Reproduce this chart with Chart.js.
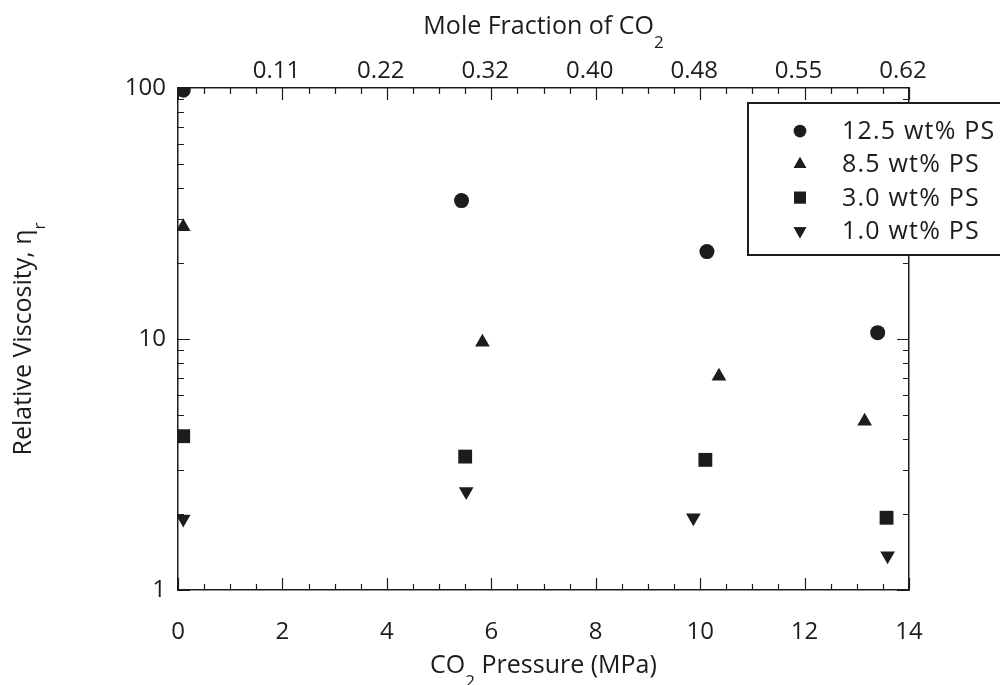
<!DOCTYPE html>
<html>
<head>
<meta charset="utf-8">
<script src="https://cdn.jsdelivr.net/npm/chart.js@4.4.1/dist/chart.umd.min.js"></script>
<style>
  html,body{margin:0;padding:0;background:#fff;}
  #wrap{width:1000px;height:685px;position:relative;}
</style>
</head>
<body>
<div id="wrap"><canvas id="c" width="1000" height="685"></canvas></div>
<script>
// data
const seriesLabels = ['12.5 wt% PS','8.5 wt% PS','3.0 wt% PS','1.0 wt% PS'];
const ps125X = [0.1, 5.43, 10.13, 13.4];
const ps125Y = [98, 35.6, 22.3, 10.6];
const ps85X  = [0.1, 5.83, 10.36, 13.15];
const ps85Y  = [28.0, 9.7, 7.1, 4.7];
const ps30X  = [0.1, 5.5, 10.1, 13.57];
const ps30Y  = [4.1, 3.4, 3.3, 1.94];
const ps10X  = [0.1, 5.52, 9.87, 13.59];
const ps10Y  = [1.92, 2.47, 1.94, 1.37];

const pressureTicks = [0,2,4,6,8,10,12,14];
const moleFracLabels = ['', '0.11','0.22','0.32','0.40','0.48','0.55','0.62'];
const viscTicks = [1,10,100];

const INK = '#1c1c1c';
const FONT = '"Open Sans", "DejaVu Sans", sans-serif';

const pts = (xs, ys) => xs.map((x,i)=>({x, y: ys[i]}));
const marker = [
  {style:'circle', radius:7.5, rotation:0},
  {style:'triangle', radius:8.5, rotation:0},
  {style:'rect', radius:9.8, rotation:0},
  {style:'triangle', radius:8.5, rotation:180},
];
const allData = [pts(ps125X,ps125Y), pts(ps85X,ps85Y), pts(ps30X,ps30Y), pts(ps10X,ps10Y)];

const datasets = allData.map((d,i)=>({
  label: seriesLabels[i], data: d,
  pointStyle: marker[i].style, pointRadius: marker[i].radius, pointRotation: marker[i].rotation,
  backgroundColor: INK, borderColor: INK, borderWidth: 0, showLine:false
}));

// inside tick marks, axis titles with subscripts, legend box
const decor = {
  id:'decor',
  afterDatasetsDraw(chart){
    const {ctx, chartArea:a, scales} = chart;
    const xs = scales.x, ys = scales.y;
    ctx.save();
    ctx.strokeStyle = INK; ctx.lineWidth = 1.2;
    ctx.beginPath();
    for(let v=0; v<=14.001; v+=0.5){
      const px = Math.round(xs.getPixelForValue(v))+0.5;
      const len = (v%2===0) ? 12 : 6;
      ctx.moveTo(px, a.bottom); ctx.lineTo(px, a.bottom-len);
      ctx.moveTo(px, a.top); ctx.lineTo(px, a.top+len);
    }
    for(let dec=1; dec<100; dec*=10){
      for(let m=1; m<10; m++){
        const v = m*dec;
        const py = Math.round(ys.getPixelForValue(v))+0.5;
        const len = (m===1) ? 12 : 6;
        ctx.moveTo(a.left, py); ctx.lineTo(a.left+len, py);
        ctx.moveTo(a.right, py); ctx.lineTo(a.right-len, py);
      }
    }
    ctx.stroke();

    // axis titles
    ctx.fillStyle = INK;
    ctx.textBaseline = 'alphabetic';
    const sub = (parts, cx, cy, rot) => {
      ctx.save();
      ctx.translate(cx, cy); if(rot) ctx.rotate(rot);
      let w = 0;
      parts.forEach(p=>{ ctx.font = (p.sub?'17px ':'25px ')+FONT; w += ctx.measureText(p.t).width; });
      let x = -w/2;
      ctx.textAlign = 'left';
      parts.forEach(p=>{
        ctx.font = (p.sub?'17px ':'25px ')+FONT;
        ctx.fillText(p.t, x, p.sub ? 14 : 0);
        x += ctx.measureText(p.t).width;
      });
      ctx.restore();
    };
    const cx = (a.left+a.right)/2;
    sub([{t:'CO'},{t:'2',sub:true},{t:' Pressure (MPa)'}], cx, 673);
    sub([{t:'Mole Fraction of CO'},{t:'2',sub:true}], cx, 34);
    sub([{t:'Relative Viscosity, η'},{t:'r',sub:true}], 31, (a.top+a.bottom)/2, -Math.PI/2);

    // legend
    const L = 748, T = 103, B = 255;
    ctx.fillStyle = '#fff';
    ctx.fillRect(L, T, 1010-L, B-T);
    ctx.strokeStyle = INK; ctx.lineWidth = 2;
    ctx.strokeRect(L, T, 1010-L, B-T);
    ctx.font = '25px '+FONT;
    ctx.letterSpacing = '1.2px';
    ctx.textAlign = 'left'; ctx.textBaseline = 'middle';
    chart.data.datasets.forEach((ds,i)=>{
      const y = 131 + i*33.3;
      Chart.helpers.drawPoint(ctx, {pointStyle: ds.pointStyle, radius: ds.pointRadius*0.85, rotation: ds.pointRotation, borderWidth:0}, 800, y);
      ctx.fillStyle = INK;
      ctx.fill();
      ctx.fillText(ds.label, 842, y+1);
    });
    ctx.restore();
  }
};

const tickFont = {family: FONT, size: 24};

new Chart(document.getElementById('c'), {
  type:'scatter',
  data:{datasets},
  options:{
    responsive:false, animation:false, devicePixelRatio:1,
    layout:{padding:0},
    plugins:{legend:{display:false}, tooltip:{enabled:false}},
    scales:{
      x:{
        type:'linear', position:'bottom', min:0, max:14,
        afterBuildTicks: s => { s.ticks = pressureTicks.map(v=>({value:v})); },
        afterFit: s => { s.height = 95; },
        ticks:{color:INK, font:tickFont, padding:28, maxRotation:0, autoSkip:false},
        grid:{display:true, drawOnChartArea:false, drawTicks:false},
        border:{display:true, color:INK, width:1.5}
      },
      xTop:{
        type:'linear', position:'top', min:0, max:14,
        afterBuildTicks: s => { s.ticks = pressureTicks.map(v=>({value:v})); },
        afterFit: s => { s.height = 88; },
        ticks:{color:INK, font:tickFont, padding:2, labelOffset:-6, maxRotation:0, autoSkip:false,
               callback:(v,i)=>moleFracLabels[i]},
        grid:{display:true, drawOnChartArea:false, drawTicks:false},
        border:{display:true, color:INK, width:1.5}
      },
      y:{
        type:'logarithmic', position:'left', min:1, max:100,
        afterBuildTicks: s => { s.ticks = viscTicks.map(v=>({value:v})); },
        afterFit: s => { s.width = 178; },
        ticks:{color:INK, font:tickFont, padding:12, autoSkip:false, callback:v=>String(v)},
        grid:{display:true, drawOnChartArea:false, drawTicks:false},
        border:{display:true, color:INK, width:1.5}
      },
      yRight:{
        type:'logarithmic', position:'right', min:1, max:100,
        afterFit: s => { s.width = 91; },
        ticks:{display:false},
        grid:{display:true, drawOnChartArea:false, drawTicks:false},
        border:{display:true, color:INK, width:1.5}
      }
    }
  },
  plugins:[decor]
});
</script>
</body>
</html>
